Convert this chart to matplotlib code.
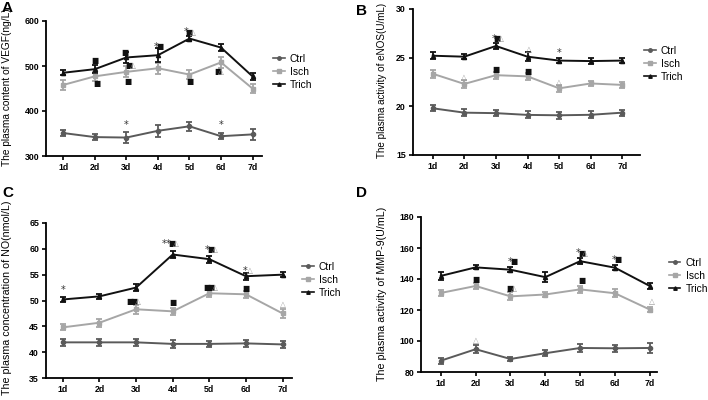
import numpy as np
import matplotlib
matplotlib.use('Agg')
import matplotlib.pyplot as plt
from matplotlib.lines import Line2D

plt.rcParams['font.family'] = ['Liberation Sans', 'DejaVu Sans']

days = ['1d', '2d', '3d', '4d', '5d', '6d', '7d']
groups = ['Ctrl', 'Isch', 'Trich']

# A - VEGF
vegf_ctrl = [351, 342, 341, 356, 366, 344, 348]
vegf_ctrl_err = [6, 6, 13, 13, 10, 7, 12]
vegf_isch = [458, 477, 487, 495, 481, 508, 450]
vegf_isch_err = [12, 10, 12, 12, 10, 12, 10]
vegf_trich = [485, 493, 519, 524, 561, 541, 477]
vegf_trich_err = [6, 9, 12, 15, 6, 7, 7]

# B - eNOS
enos_ctrl = [19.8, 19.35, 19.3, 19.12, 19.08, 19.13, 19.35]
enos_ctrl_err = [0.3, 0.35, 0.3, 0.35, 0.35, 0.35, 0.3]
enos_isch = [23.35, 22.3, 23.2, 23.08, 21.85, 22.35, 22.2]
enos_isch_err = [0.4, 0.4, 0.35, 0.35, 0.35, 0.25, 0.35]
enos_trich = [25.2, 25.1, 26.2, 25.1, 24.7, 24.65, 24.7]
enos_trich_err = [0.35, 0.25, 0.3, 0.45, 0.25, 0.35, 0.25]

# C - NO
no_ctrl = [41.9, 41.9, 41.9, 41.6, 41.6, 41.7, 41.5]
no_ctrl_err = [0.7, 0.7, 0.7, 0.7, 0.6, 0.7, 0.7]
no_isch = [44.8, 45.7, 48.3, 47.9, 51.4, 51.2, 47.5]
no_isch_err = [0.6, 0.8, 0.9, 0.7, 0.8, 0.7, 0.8]
no_trich = [50.2, 50.8, 52.5, 58.9, 58.0, 54.7, 55.0]
no_trich_err = [0.5, 0.5, 0.6, 0.7, 0.7, 0.7, 0.5]

# D - MMP-9
mmp_ctrl = [87.3, 94.7, 88.4, 92.1, 95.5, 95.3, 95.5]
mmp_ctrl_err = [2.0, 2.5, 1.5, 1.8, 2.8, 2.3, 3.0]
mmp_isch = [131.0, 135.5, 128.8, 130.0, 133.3, 130.8, 120.3]
mmp_isch_err = [1.8, 2.0, 2.5, 1.3, 2.3, 2.5, 1.8]
mmp_trich = [142.0, 147.5, 146.0, 141.2, 151.5, 147.3, 135.5]
mmp_trich_err = [2.5, 1.3, 1.8, 3.0, 2.0, 1.8, 2.0]

colors = {'Ctrl': '#5a5a5a', 'Isch': '#a6a6a6', 'Trich': '#111111'}
markers = {'Ctrl': 'o', 'Isch': 's', 'Trich': '^'}
sym_colors = {'*': '#333333', '■': '#111111', '△': '#9a9a9a'}

# annotations: (day index, y value, text, x offset in days)
annot_a = [(1, 512, '■', 0.0), (1, 462, '■', 0.05), (2, 531, '■', -0.05),
           (2, 501, '■△', 0.15), (2, 466, '■', 0.05), (3, 543, '*■', 0.0),
           (4, 575, '*■△', 0.0), (4, 466, '■', 0.0), (5, 488, '■△', -0.05),
           (2, 369, '*', 0.0), (5, 369, '*', 0.0)]
annot_b = [(2, 26.95, '*■△', 0.05), (1, 22.95, '△', 0.0), (3, 25.85, '△', 0.05),
           (3, 23.6, '■', 0.0), (2, 23.8, '■', 0.0), (4, 25.5, '*', 0.0),
           (4, 22.45, '△', 0.0)]
annot_c = [(0, 52.1, '*', 0.0), (2, 49.9, '■■△', -0.05), (3, 61.0, '**■△', -0.05),
           (3, 49.6, '■', 0.0), (4, 59.8, '*■△', 0.05), (4, 52.6, '■■△', 0.05),
           (5, 55.8, '*△', 0.05), (5, 52.4, '■', 0.0), (6, 49.2, '△', 0.0)]
annot_d = [(2, 151.2, '*■', 0.05), (2, 134.0, '■△', 0.05), (1, 139.5, '■', 0.0),
           (1, 100.5, '△', 0.0), (4, 156.7, '*■△', 0.05), (4, 139.0, '■', 0.05),
           (5, 152.4, '*■', 0.05), (6, 125.4, '△', 0.05)]

panels = [
    ('A', [0.065, 0.61, 0.305, 0.3375], (300, 600), [300, 400, 500, 600], (0.45, 7.3),
     'The plasma content of VEGF(ng/L)', (-0.157, 0.507), 7.3,
     (vegf_ctrl, vegf_ctrl_err, vegf_isch, vegf_isch_err, vegf_trich, vegf_trich_err),
     annot_a, (0.386, 0.82), (0.003, 0.998)),
    ('B', [0.583, 0.6125, 0.3206, 0.365], (15, 30), [15, 20, 25, 30], (0.37, 7.55),
     'The plasma activity of eNOS(U/mL)', (-0.115, 0.51), 7.1,
     (enos_ctrl, enos_ctrl_err, enos_isch, enos_isch_err, enos_trich, enos_trich_err),
     annot_b, (0.910, 0.84), (0.503, 0.99)),
    ('C', [0.065, 0.055, 0.347, 0.3875], (35, 65), [35, 40, 45, 50, 55, 60, 65], (0.54, 7.25),
     'The plasma concentration of NO(nmol/L)', (-0.138, 0.52), 7.7,
     (no_ctrl, no_ctrl_err, no_isch, no_isch_err, no_trich, no_trich_err),
     annot_c, (0.427, 0.30), (0.003, 0.535)),
    ('D', [0.5946, 0.07, 0.333, 0.3875], (80, 180), [80, 100, 120, 140, 160, 180], (0.43, 7.2),
     'The plasma activity of MMP-9(U/mL)', (-0.144, 0.503), 7.7,
     (mmp_ctrl, mmp_ctrl_err, mmp_isch, mmp_isch_err, mmp_trich, mmp_trich_err),
     annot_d, (0.945, 0.31), (0.503, 0.535)),
]

fig = plt.figure(figsize=(7.08, 4.0), dpi=100)
x = np.arange(1, len(days) + 1)

for (letter, pos, ylim, yticks, xlim, ylabel, lab_xy, lab_fs, data, annots,
     leg_pos, let_pos) in panels:
    ax = fig.add_axes(pos)
    handles = []
    for i, g in enumerate(groups):
        ax.errorbar(x, data[2 * i], yerr=data[2 * i + 1], color=colors[g],
                    marker=markers[g], markersize=3, linewidth=1.4,
                    elinewidth=1.3, capsize=2.5, capthick=1.3)
        handles.append(Line2D([], [], color=colors[g], marker=markers[g],
                              markersize=2.5, linewidth=1.2, label=g))
    ax.set_ylim(*ylim)
    ax.set_yticks(yticks)
    ax.set_xlim(*xlim)
    ax.set_xticks(x)
    ax.set_xticklabels(days)
    for s in ['top', 'right']:
        ax.spines[s].set_visible(False)
    for s in ['left', 'bottom']:
        ax.spines[s].set_linewidth(1.3)
    ax.tick_params(axis='both', labelsize=6.3, width=1.2, length=3, pad=2)
    for lab in ax.get_xticklabels() + ax.get_yticklabels():
        lab.set_fontweight('bold')
    ax.set_ylabel(ylabel, fontsize=lab_fs)
    ax.yaxis.set_label_coords(*lab_xy)
    for idx, yv, txt, dx in annots:
        xt = x[idx] + dx - 0.06 * (len(txt) - 1)
        for k, ch in enumerate(txt):
            ax.text(xt + 0.11 * k, yv, ch, fontsize=5.5 if ch != '*' else 7,
                    color=sym_colors[ch], ha='center', va='center',
                    family=['DejaVu Sans'])
    ax.legend(handles=handles, loc='center left', bbox_to_anchor=leg_pos,
              bbox_transform=fig.transFigure, frameon=False, fontsize=7.4,
              handlelength=1.1, labelspacing=0.3, handletextpad=0.5,
              borderaxespad=0, borderpad=0)
    fig.text(let_pos[0], let_pos[1], letter, fontsize=11, fontweight='bold',
             va='top', ha='left')

fig.savefig('out.png', dpi=100)
